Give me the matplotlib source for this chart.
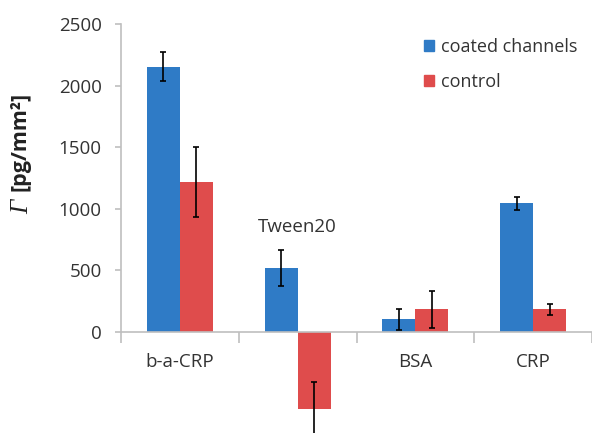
import matplotlib
matplotlib.use("Agg")
import matplotlib.pyplot as plt
import numpy as np
from matplotlib.patches import Patch

categories = ["b-a-CRP", "Tween20", "BSA", "CRP"]
coated = [2155, 517, 103, 1044]
coated_err = [120, 146, 87, 50]
control = [1220, -625, 184, 184]
control_err = [285, 217, 152, 45]
yticks = [0, 500, 1000, 1500, 2000, 2500]

BLUE = "#2F7BC6"
RED = "#DF4C4C"
GRAY = "#BFBFBF"
TXT = "#333333"
FONT = "Open Sans"
FS = 13.5

W, H = 592, 433
fig = plt.figure(figsize=(W / 100, H / 100), dpi=100)
ax = fig.add_axes([121 / W, 0, 471 / W, 1])

x = np.arange(len(categories))
bw = 0.28
ax.bar(x - bw / 2, coated, bw, color=BLUE, yerr=coated_err,
       error_kw=dict(ecolor="black", elinewidth=1.2, capsize=2.5, capthick=1.2),
       label="coated channels", zorder=2)
ax.bar(x + bw / 2, control, bw, color=RED, yerr=control_err,
       error_kw=dict(ecolor="black", elinewidth=1.2, capsize=2.5, capthick=1.2),
       label="control", zorder=2)

ax.set_xlim(-0.5, 3.5)
ax.set_ylim(-820, 2695)

for s in ["top", "right"]:
    ax.spines[s].set_visible(False)
ax.spines["bottom"].set_position(("data", 0))
ax.spines["bottom"].set_color(GRAY)
ax.spines["bottom"].set_linewidth(1.2)
ax.spines["left"].set_bounds(0, 2500)
ax.spines["left"].set_color(GRAY)
ax.spines["left"].set_linewidth(1.2)

ax.set_yticks(yticks)
ax.set_yticklabels([str(v) for v in yticks], fontfamily=FONT, fontsize=FS, color=TXT)
ax.tick_params(axis="y", length=4, color=GRAY, width=1.2, pad=10)

ax.set_xticks(x)
ax.set_xticklabels([c if c != "Tween20" else "" for c in categories],
                   fontfamily=FONT, fontsize=FS, color=TXT)
ax.tick_params(axis="x", which="major", length=0, pad=15)
ax.set_xticks(np.arange(-0.5, 3.6, 1.0), minor=True)
ax.tick_params(axis="x", which="minor", length=8, color=GRAY, width=1.2, direction="out")

ax.text(1, 852, "Tween20", ha="center", va="center", fontfamily=FONT, fontsize=FS, color=TXT)

handles = [Patch(color=BLUE), Patch(color=RED)]
fig.legend(handles, ["coated channels", "control"], loc="upper left",
           bbox_to_anchor=(424 / W, 1 - 38 / H), frameon=False, borderpad=0,
           borderaxespad=0, prop=dict(family=FONT, size=13),
           handlelength=0.55, handleheight=0.55,
           handletextpad=0.4, labelspacing=0.95, labelcolor=TXT)

fig.text(20 / W, 1 - 141 / H, "[pg/mm²]", rotation=90, ha="center", va="center",
         fontfamily=FONT, fontsize=15.5, fontweight="bold", color="#222222")
fig.text(22 / W, 1 - 207 / H, "Γ", rotation=90, ha="center", va="center",
         fontfamily="Liberation Serif", fontstyle="italic", fontsize=18, color="#222222")

fig.savefig("out.png", dpi=100)
